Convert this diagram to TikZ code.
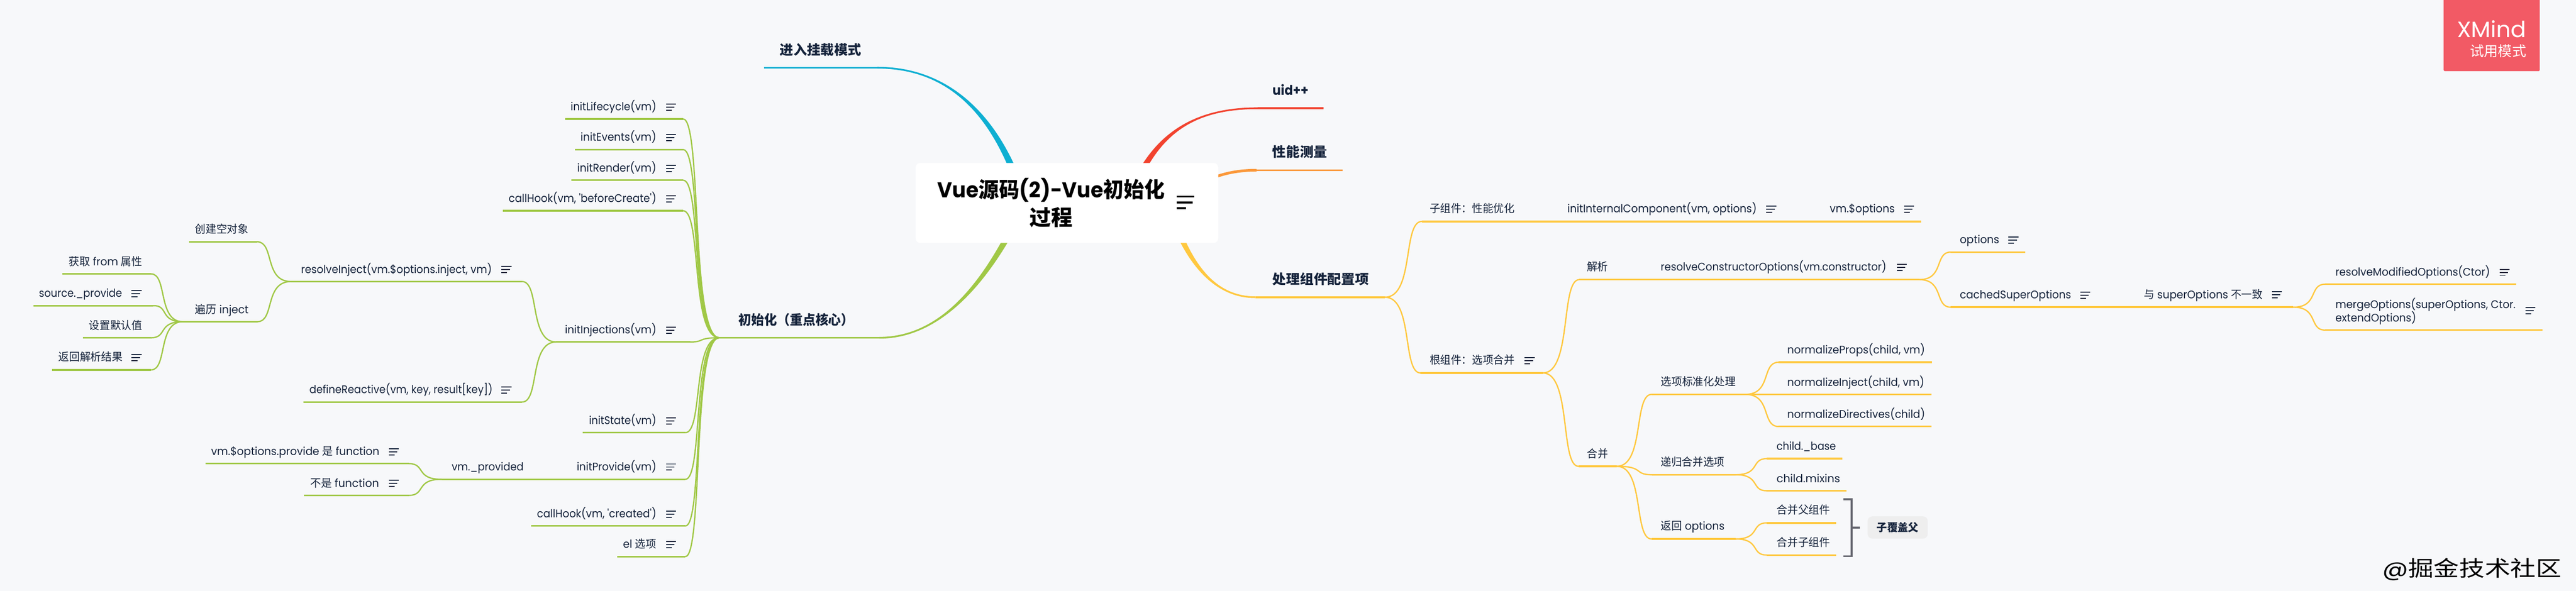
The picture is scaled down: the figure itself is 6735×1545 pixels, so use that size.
\documentclass[tikz,border=0pt]{standalone}
\usepackage{graphicx}
\usepackage{fontspec}
\setmainfont{Poppins}
\newfontfamily\cjk{Noto Sans CJK SC}
\usetikzlibrary{calc}
\pgfdeclarelayer{bg}
\pgfsetlayers{bg,main}
\definecolor{pagebg}{HTML}{F7F8FA}
\definecolor{ink}{HTML}{15233B}
\definecolor{cgreen}{HTML}{A0C846}
\definecolor{cyell}{HTML}{FFC83F}
\definecolor{ccyan}{HTML}{0EAFD2}
\definecolor{cred}{HTML}{F2432F}
\definecolor{corange}{HTML}{FB983A}
\definecolor{xmred}{HTML}{F25A65}
\definecolor{brk}{HTML}{666770}
\definecolor{sumfill}{HTML}{EEEEEE}
\tikzset{
  lbl/.style={inner sep=0pt,outer sep=0pt,text=ink,font=\fontsize{29}{34}\selectfont},
  lblmain/.style={inner sep=0pt,outer sep=0pt,text=ink,font=\fontsize{35}{42}\selectfont\bfseries},
  underln/.style={line width=4.5pt,line cap=butt},
  subln/.style={line width=3.4pt,line cap=round},
  noteln/.style={line width=2.6pt,color=ink},
  rootbox/.style={fill=white,rounded corners=12pt,minimum width=791pt,minimum height=209pt,inner sep=0pt},
}
\newcommand\fitw[2]{\resizebox{#1pt}{\height}{#2}}
% name, x1, x2, line y, colour, text x, text centre y, text width, text
\newcommand\topic[9]{%
  \coordinate (#1-l) at (#2,#4);
  \coordinate (#1-r) at (#3,#4);
  \draw[underln,#5] (#1-l) -- (#1-r);
  \node[lbl,anchor=base west] (#1) at (#6,{#7+9}) {\fitw{#8}{#9}};
}
\newcommand\maintopic[9]{%
  \coordinate (#1-l) at (#2,#4);
  \coordinate (#1-r) at (#3,#4);
  \draw[underln,#5] (#1-l) -- (#1-r);
  \node[lblmain,anchor=base west] (#1) at (#6,{#7+12}) {\fitw{#8}{#9}};
}
\newcommand\conn[3]{%
  \coordinate (tA) at ($(#2)!.8!(#3)$);
  \coordinate (tB) at ($(#2)!.48!(#3)$);
  \draw[subln,#1] (#2) .. controls (tA |- #2) and (tB |- #3) .. (#3);
}
\newcommand\noteicon[2]{%
  \begin{scope}[shift={(#1,#2)}]
    \draw[noteln] (0,-8) -- (26,-8);
    \draw[noteln] (0,0) -- (22,0);
    \draw[noteln] (0,8) -- (15,8);
  \end{scope}
}
% colour, start, c1, c2, end, end half width (signed)
\newcommand\taper[6]{%
  \fill[#1] ($(#2)+(10,0)$) .. controls ($(#3)+(9,0)$) and ($(#4)+(0,#6)$) .. ($(#5)+(0,#6)$)
    -- ($(#5)-(0,#6)$) .. controls ($(#4)-(0,#6)$) and ($(#3)-(9,0)$) .. ($(#2)-(10,0)$) -- cycle;
}
\begin{document}
\begin{tikzpicture}[x=1pt,y=-1pt]
\useasboundingbox (0,0) rectangle (6735,1545);
\begin{pgfonlayer}{bg}
\fill[pagebg] (0,0) rectangle (6735,1545);
\end{pgfonlayer}

% root
\node[rootbox] (root) at (2789.5,530.5) {};
\node[inner sep=0pt,text=black,align=center,font=\fontsize{56}{73}\selectfont\bfseries] (roottext) at (2748,530)
  {\fitw{594}{Vue{\cjk 源码}(2)-Vue{\cjk 初始化}}\\{\cjk 过程}};
\begin{scope}[shift={(3076,529)}]
  \draw[line width=5pt,black] (0,-15) -- (46,-15);
  \draw[line width=5pt,black] (0,0) -- (42,0);
  \draw[line width=5pt,black] (0,15) -- (25,15);
\end{scope}

% main branches
\maintopic{mt}{1997}{2294}{177}{ccyan}{2039}{131}{213}{\cjk 进入挂载模式}
\maintopic{ch}{1881}{2299}{883}{cgreen}{1931}{837}{302}{\cjk 初始化（重点核心）}
\maintopic{uid}{3288}{3461}{283}{cred}{3327}{237}{94}{uid++}
\maintopic{pf}{3285}{3510}{445}{corange}{3327}{398}{143}{\cjk 性能测量}
\maintopic{pz}{3282}{3621}{777}{cyell}{3327}{731}{252}{\cjk 处理组件配置项}

\begin{pgfonlayer}{bg}
\coordinate (s1) at ($(root.center)+(-110,0)$);
\coordinate (s2) at ($(root.center)+(-110,0)$);
\coordinate (s3) at ($(root.center)+(160,0)$);
\coordinate (s4) at ($(root.center)+(330,-40)$);
\coordinate (s5) at ($(root.center)+(250,-50)$);
\coordinate (a1) at (2610,300); \coordinate (b1) at (2480,177);
\coordinate (a2) at (2600,700); \coordinate (b2) at (2480,883);
\coordinate (a3) at (3010,350); \coordinate (b3) at (3120,283);
\coordinate (a4) at (3170,460); \coordinate (b4) at (3220,445);
\coordinate (a5) at (3090,680); \coordinate (b5) at (3170,777);
\taper{ccyan}{s1}{a1}{b1}{mt-r}{-2.25}
\taper{cgreen}{s2}{a2}{b2}{ch-r}{2.25}
\taper{cred}{s3}{a3}{b3}{uid-l}{2.25}
\taper{cyell}{s5}{a5}{b5}{pz-l}{-2.25}
\draw[corange,line width=7pt] (s4) .. controls (a4) and (b4) .. (pf-l);
\end{pgfonlayer}

% left side
\topic{lc}{1477}{1786}{311}{cgreen}{1492}{280}{224}{initLifecycle(vm)}
\topic{ev}{1503}{1786}{391}{cgreen}{1518}{360}{198}{initEvents(vm)}
\topic{rd}{1494}{1786}{471}{cgreen}{1509}{440}{207}{initRender(vm)}
\topic{bc}{1315}{1786}{551}{cgreen}{1330}{520}{386}{callHook(vm, \textquotesingle beforeCreate\textquotesingle)}
\topic{ri}{761}{1365}{736}{cgreen}{787}{705}{499}{resolveInject(vm.\$options.inject, vm)}
\topic{kb}{495}{672}{632}{cgreen}{510}{600}{140}{\cjk 创建空对象}
\topic{bl}{478}{673}{841}{cgreen}{510}{810}{140}{{\cjk 遍历} inject}
\topic{hq}{163}{395}{716}{cgreen}{180}{685}{192}{{\cjk 获取} from {\cjk 属性}}
\topic{sp}{87}{402}{799}{cgreen}{102}{768}{217}{source.\_provide}
\topic{mr}{217}{395}{883}{cgreen}{233}{852}{139}{\cjk 设置默认值}
\topic{jg}{136}{395}{967}{cgreen}{153}{935}{168}{\cjk 返回解析结果}
\topic{ij}{1454}{1805}{894}{cgreen}{1477}{863}{239}{initInjections(vm)}
\topic{dr}{793}{1365}{1051}{cgreen}{809}{1020}{479}{defineReactive(vm, key, result[key])}
\topic{st}{1523}{1792}{1131}{cgreen}{1540}{1100}{176}{initState(vm)}
\topic{pv}{1384}{1792}{1253}{cgreen}{1508}{1221}{208}{initProvide(vm)}
\topic{vp}{1154}{1384}{1253}{cgreen}{1181}{1222}{188}{vm.\_provided}
\topic{fn}{537}{1069}{1212}{cgreen}{552}{1181}{440}{vm.\$options.provide {\cjk 是} function}
\topic{nf}{795}{1069}{1295}{cgreen}{811}{1264}{180}{{\cjk 不是} function}
\topic{cr}{1389}{1792}{1375}{cgreen}{1404}{1344}{312}{callHook(vm, \textquotesingle created\textquotesingle)}
\topic{el}{1614}{1792}{1455}{cgreen}{1629}{1424}{87}{el {\cjk 选项}}

\noteicon{1741}{280}\noteicon{1741}{360}\noteicon{1741}{440}\noteicon{1741}{520}
\noteicon{1311}{705}\noteicon{344}{768}\noteicon{344}{935}\noteicon{1741}{863}
\noteicon{1311}{1020}\noteicon{1741}{1100}\noteicon{1741}{1221}\noteicon{1017}{1181}
\noteicon{1017}{1264}\noteicon{1741}{1344}\noteicon{1741}{1424}

\conn{cgreen}{ch-l}{lc-r}
\conn{cgreen}{ch-l}{ev-r}
\conn{cgreen}{ch-l}{rd-r}
\conn{cgreen}{ch-l}{bc-r}
\conn{cgreen}{ch-l}{ij-r}
\conn{cgreen}{ch-l}{st-r}
\conn{cgreen}{ch-l}{pv-r}
\conn{cgreen}{ch-l}{cr-r}
\conn{cgreen}{ch-l}{el-r}
\conn{cgreen}{ij-l}{ri-r}
\conn{cgreen}{ij-l}{dr-r}
\conn{cgreen}{ri-l}{kb-r}
\conn{cgreen}{ri-l}{bl-r}
\conn{cgreen}{bl-l}{hq-r}
\conn{cgreen}{bl-l}{sp-r}
\conn{cgreen}{bl-l}{mr-r}
\conn{cgreen}{bl-l}{jg-r}
\conn{cgreen}{vp-l}{fn-r}
\conn{cgreen}{vp-l}{nf-r}

% right side
\topic{zz}{3717}{4070}{579}{cyell}{3738}{547}{222}{\cjk 子组件：性能优化}
\topic{ic}{4070}{4760}{579}{cyell}{4098}{547}{495}{initInternalComponent(vm, options)}
\topic{vo}{4760}{5023}{579}{cyell}{4784}{547}{170}{vm.\$options}
\topic{gz}{3714}{4034}{975}{cyell}{3738}{943}{222}{\cjk 根组件：选项合并}
\topic{jx}{4129}{4310}{731}{cyell}{4149}{699}{55}{\cjk 解析}
\topic{rc}{4310}{5018}{731}{cyell}{4342}{699}{590}{resolveConstructorOptions(vm.constructor)}
\topic{op}{5100}{5295}{659}{cyell}{5124}{628}{103}{options}
\topic{cs}{5100}{5570}{803}{cyell}{5124}{772}{291}{cachedSuperOptions}
\topic{sd}{5570}{5996}{803}{cyell}{5605}{771}{311}{{\cjk 与} superOptions {\cjk 不一致}}
\topic{rm}{6079}{6579}{743}{cyell}{6106}{712}{404}{resolveModifiedOptions(Ctor)}
\coordinate (mg-l) at (6079,863);
\coordinate (mg-r) at (6648,863);
\draw[underln,cyell] (mg-l) -- (mg-r);
\node[lbl,anchor=west,align=left,font=\fontsize{29}{36}\selectfont] (mg) at (6106,814)
  {\fitw{471}{mergeOptions(superOptions, Ctor.}\\\fitw{211}{extendOptions)}};
\topic{hb}{4127}{4227}{1219}{cyell}{4150}{1188}{54}{\cjk 合并}
\topic{xb}{4318}{4563}{1031}{cyell}{4342}{999}{196}{\cjk 选项标准化处理}
\topic{np}{4650}{5051}{947}{cyell}{4673}{916}{360}{normalizeProps(child, vm)}
\topic{ni}{4563}{5050}{1031}{cyell}{4673}{1000}{358}{normalizeInject(child, vm)}
\topic{nd}{4650}{5050}{1115}{cyell}{4673}{1084}{360}{normalizeDirectives(child)}
\topic{dg}{4318}{4538}{1241}{cyell}{4342}{1209}{167}{\cjk 递归合并选项}
\topic{cb}{4619}{4817}{1199}{cyell}{4645}{1168}{155}{child.\_base}
\topic{cm}{4619}{4827}{1283}{cyell}{4645}{1252}{166}{child.mixins}
\topic{fh}{4318}{4538}{1409}{cyell}{4342}{1377}{167}{{\cjk 返回} options}
\topic{hf}{4619}{4801}{1367}{cyell}{4645}{1334}{140}{\cjk 合并父组件}
\topic{hz}{4619}{4801}{1451}{cyell}{4645}{1419}{140}{\cjk 合并子组件}

\noteicon{4618}{547}\noteicon{4978}{547}\noteicon{3986}{943}\noteicon{4959}{699}
\noteicon{5251}{628}\noteicon{5439}{772}\noteicon{5940}{771}\noteicon{6535}{712}
\noteicon{6603}{812}

\conn{cyell}{pz-r}{zz-l}
\conn{cyell}{pz-r}{gz-l}
\conn{cyell}{gz-r}{jx-l}
\conn{cyell}{gz-r}{hb-l}
\conn{cyell}{rc-r}{op-l}
\conn{cyell}{rc-r}{cs-l}
\conn{cyell}{sd-r}{rm-l}
\conn{cyell}{sd-r}{mg-l}
\conn{cyell}{hb-r}{xb-l}
\conn{cyell}{hb-r}{dg-l}
\conn{cyell}{hb-r}{fh-l}
\conn{cyell}{xb-r}{np-l}
\conn{cyell}{xb-r}{nd-l}
\conn{cyell}{dg-r}{cb-l}
\conn{cyell}{dg-r}{cm-l}
\conn{cyell}{fh-r}{hf-l}
\conn{cyell}{fh-r}{hz-l}

% summary
\node[fill=sumfill,rounded corners=12pt,minimum width=157pt,minimum height=58pt,inner sep=0pt,
  text=ink,font=\fontsize{28}{34}\selectfont\bfseries] (sum) at (4961.5,1379) {\fitw{110}{\cjk 子覆盖父}};
\coordinate (br-t) at (4820,1305);
\coordinate (br-b) at (4820,1454);
\coordinate (br-m) at (4841,1379);
\draw[brk,line width=5pt] (br-t) -- (br-t -| br-m) -- (br-b -| br-m) -- (br-b);
\draw[brk,line width=5pt] (br-m) -- (4862,1379);

% XMind badge
\fill[xmred,rounded corners=3pt] (6389,-10) rectangle (6640,186);
\node[inner sep=0pt,anchor=base east,text=white,font=\fontsize{58}{60}\selectfont] (xm) at (6605,98) {\fitw{181}{XMind}};
\node[inner sep=0pt,anchor=base east,text=white,font=\fontsize{37}{40}\selectfont] (xmt) at (6605,148) {\fitw{147}{\cjk 试用模式}};

% watermark
\node[inner sep=0pt,anchor=base east,text=black,font=\fontsize{56}{60}\selectfont] (wm) at (6697,1506)
  {\fitw{468}{@{\cjk 掘金技术社区}}};
\end{tikzpicture}
\end{document}
